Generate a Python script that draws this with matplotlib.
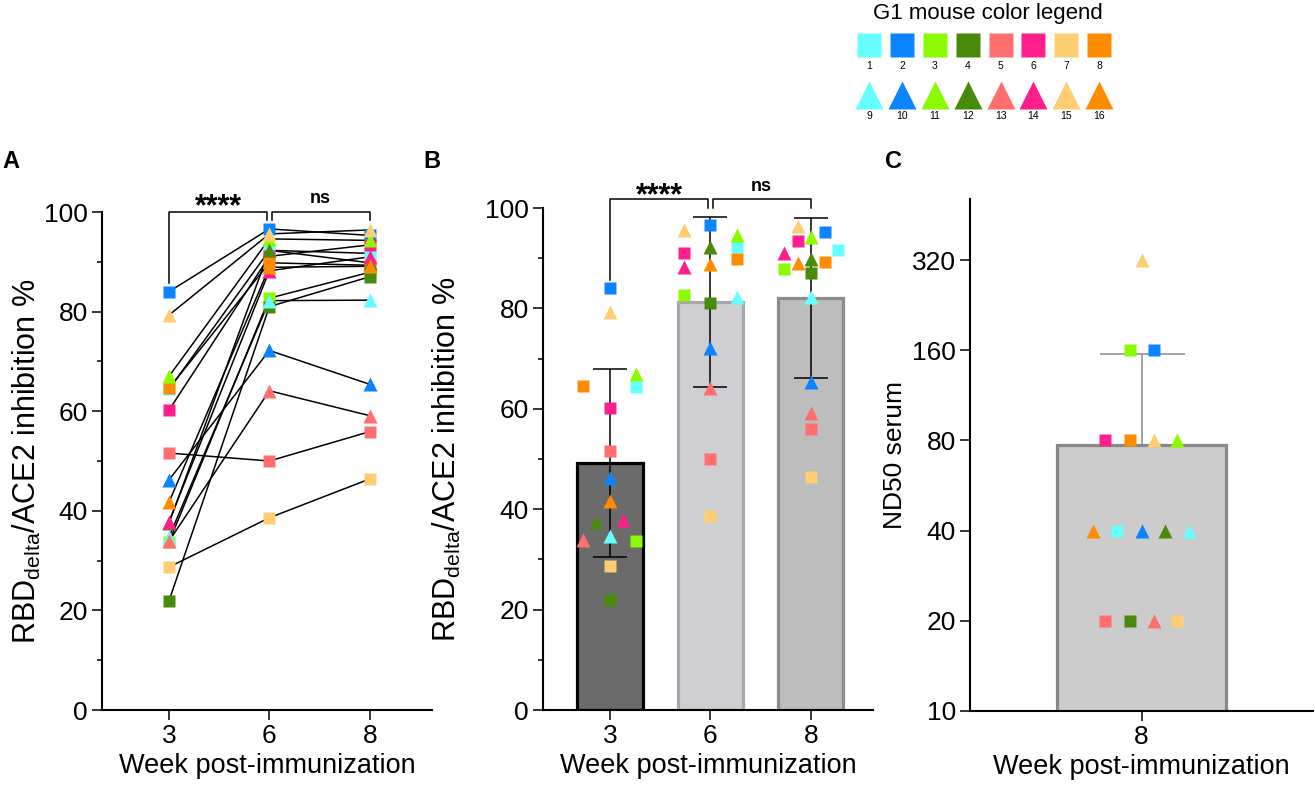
import matplotlib
matplotlib.use('Agg')
import matplotlib.pyplot as plt
from matplotlib.ticker import NullLocator, FixedLocator
import numpy as np

plt.rcParams['font.family'] = ['Liberation Sans', 'DejaVu Sans']
plt.rcParams['mathtext.fontset'] = 'custom'
plt.rcParams['mathtext.rm'] = 'Liberation Sans'
plt.rcParams['mathtext.it'] = 'Liberation Sans:italic'
plt.rcParams['mathtext.bf'] = 'Liberation Sans:bold'

# ---------------- data ----------------
weeks = ['3', '6', '8']
mouse_ids = list(range(1, 17))
mouse_palette = ['#66FFFF', '#0A84FF', '#8CFA00', '#4A8A0A',
                 '#FF6F6F', '#FF1F8C', '#FFCE73', '#FF8C00']
week3 = [64.4, 84.0, 33.7, 21.9, 51.6, 60.2, 28.7, 64.6,
         34.7, 46.2, 67.0, 37.5, 33.9, 37.8, 79.3, 41.7]
week6 = [92.3, 96.6, 82.7, 81.0, 50.0, 91.1, 38.6, 89.8,
         82.2, 72.2, 94.6, 92.3, 64.1, 88.2, 95.6, 88.9]
week8 = [91.7, 95.3, 87.9, 87.0, 55.9, 93.4, 46.4, 89.3,
         82.3, 65.4, 94.3, 89.8, 59.1, 91.0, 96.4, 89.1]

# panel C: ND50 per plotted point (mouse id shown by colour/marker)
nd50_week = '8'
nd50_mouse = [15, 3, 2, 6, 8, 15, 11, 16, 1, 10, 12, 9, 5, 4, 13, 7]
nd50_values = [320, 160, 160, 80, 80, 80, 80, 40, 40, 40, 40, 40, 20, 20, 20, 20]

sig_left = '****'
sig_right = 'ns'

# horizontal scatter offsets (styling)
jit3 = [0.26, 0, 0.26, 0, 0, 0, 0, -0.27, 0, 0, 0.26, -0.14, -0.27, 0.13, 0, 0]
jit6 = [0.27, 0, -0.26, 0, 0, -0.26, 0, 0.27, 0.27, 0, 0.27, 0, 0, -0.26, -0.26, 0]
jit8 = [0.27, 0.14, -0.27, 0, 0, -0.13, 0, 0.14, 0, 0, 0, 0, 0, -0.27, -0.13, -0.13]
jitC = [0, -0.071, 0.073, -0.217, -0.071, 0.073, 0.211, -0.288, -0.144, 0,
        0.14, 0.284, -0.217, -0.071, 0.073, 0.211]


def mcolor(m):
    return mouse_palette[(m - 1) % 8]


def mmarker(m):
    return 's' if m <= 8 else '^'


def msize(m):
    return 8.6 if m <= 8 else 10.0


W, H = 1315, 789
fig = plt.figure(figsize=(W / 100, H / 100), dpi=100)


def ax_px(l, t, r, b):
    return fig.add_axes([l / W, 1 - b / H, (r - l) / W, (b - t) / H])


TICK_FS = 19
LAB_FS = 19.5
YLAB_FS = 22


def style(ax):
    for s in ['top', 'right']:
        ax.spines[s].set_visible(False)
    for s in ['left', 'bottom']:
        ax.spines[s].set_linewidth(1.5)
    ax.tick_params(axis='both', which='major', length=7, width=1.1,
                   labelsize=TICK_FS, pad=3)
    ax.tick_params(axis='both', which='minor', length=3.6, width=1.1)


ylabel_txt = r'RBD$_{\mathrm{delta}}$/ACE2 inhibition %'
xlabel_txt = 'Week post-immunization'

# ---------------- panel A ----------------
axA = ax_px(102, 212, 432, 710)
style(axA)
xs = np.arange(3)
for i, m in enumerate(mouse_ids):
    axA.plot(xs, [week3[i], week6[i], week8[i]], color='black', lw=1.1, zorder=2)
for i, m in enumerate(mouse_ids):
    axA.plot(xs, [week3[i], week6[i], week8[i]], linestyle='none',
             marker=mmarker(m), ms=msize(m), mfc=mcolor(m), mec='none',
             zorder=3, clip_on=False)
axA.set_xlim(-0.667, 2.62)
axA.set_ylim(0, 100)
axA.set_xticks(xs, weeks)
axA.set_yticks(np.arange(0, 101, 20))
axA.yaxis.set_minor_locator(FixedLocator(np.arange(10, 100, 20)))
axA.set_ylabel(ylabel_txt, fontsize=YLAB_FS, labelpad=1)
axA.set_xlabel(xlabel_txt, fontsize=LAB_FS, labelpad=4)
axA.plot([0, 0, 0.977, 0.977], [85.8, 100, 100, 98.3], color='black', lw=1.1,
         clip_on=False, zorder=5)
axA.plot([1.03, 1.03, 2, 2], [98.4, 100, 100, 98.4], color='black', lw=1.1,
         clip_on=False, zorder=5)
axA.text(0.49, 99.4, sig_left, ha='center', va='baseline', fontsize=22,
         fontweight='bold')
axA.text(1.51, 101.9, sig_right, ha='center', va='baseline', fontsize=13,
         fontweight='bold')

# ---------------- panel B ----------------
axB = ax_px(543, 208, 873, 710)
style(axB)
groups = [week3, week6, week8]
jits = [jit3, jit6, jit8]
means = [np.mean(g) for g in groups]
sds = [np.std(g, ddof=1) for g in groups]
bar_fc = ['#6B6B6B', '#CFCFD3', '#BDBDBD']
bar_ec = ['#000000', '#A7A7AB', '#8C8C8C']
axB.bar(xs, means, width=0.65, color=bar_fc, edgecolor=bar_ec, linewidth=2.3,
        zorder=1)
axB.errorbar(xs, means, yerr=sds, fmt='none', ecolor='black', elinewidth=1.1,
             capsize=12, capthick=1.1, zorder=3)
for gi, (g, jt) in enumerate(zip(groups, jits)):
    for i, m in enumerate(mouse_ids):
        axB.plot(gi + jt[i], g[i], linestyle='none', marker=mmarker(m),
                 ms=msize(m), mfc=mcolor(m), mec='none', zorder=4)
axB.set_xlim(-0.667, 2.62)
axB.set_ylim(0, 100)
axB.set_xticks(xs, weeks)
axB.set_yticks(np.arange(0, 101, 20))
axB.yaxis.set_minor_locator(FixedLocator(np.arange(10, 100, 20)))
axB.set_ylabel(ylabel_txt, fontsize=YLAB_FS, labelpad=16)
axB.set_xlabel(xlabel_txt, fontsize=LAB_FS, labelpad=4)
axB.plot([0, 0, 0.977, 0.977], [85.7, 101.7, 101.7, 100], color='black',
         lw=1.1, clip_on=False, zorder=5)
axB.plot([1.027, 1.027, 2, 2], [100, 101.7, 101.7, 100], color='black',
         lw=1.1, clip_on=False, zorder=5)
axB.text(0.49, 100.8, sig_left, ha='center', va='baseline', fontsize=22,
         fontweight='bold')
axB.text(1.51, 103.4, sig_right, ha='center', va='baseline', fontsize=13,
         fontweight='bold')

# ---------------- panel C ----------------
axC = ax_px(970, 199, 1313, 711)
style(axC)
axC.set_yscale('log', base=2)
meanC = np.mean(nd50_values)
sdC = np.std(nd50_values, ddof=1)
axC.bar([0], [meanC - 1], bottom=1, width=1.0, color='#CCCCCC',
        edgecolor='#888888', linewidth=2.3, zorder=1)
axC.errorbar([0], [meanC], yerr=[[0], [sdC]], fmt='none', ecolor='#8A8A8A',
             elinewidth=1.1, capsize=30.6, capthick=1.1, zorder=0.5)
for i, m in enumerate(nd50_mouse):
    axC.plot(jitC[i], nd50_values[i], linestyle='none', marker=mmarker(m),
             ms=msize(m), mfc=mcolor(m), mec='none', zorder=4)
axC.set_xlim(-1.015, 1.015)
axC.set_ylim(10, 512)
cticks = [10, 20, 40, 80, 160, 320]
axC.set_yticks(cticks, [str(t) for t in cticks])
axC.yaxis.set_minor_locator(NullLocator())
axC.set_xticks([0], [nd50_week])
axC.set_ylabel('ND50 serum', fontsize=19, labelpad=4)
axC.set_xlabel(xlabel_txt, fontsize=LAB_FS, labelpad=4)

# ---------------- panel letters ----------------
for lbl, px in [('A', 11), ('B', 432), ('C', 894)]:
    fig.text(px / W, 1 - 161 / H, lbl, fontsize=17, fontweight='bold',
             ha='center', va='center')

# ---------------- mouse colour legend ----------------
axL = fig.add_axes([0, 0, 1, 1], zorder=10)
axL.set_xlim(0, W)
axL.set_ylim(H, 0)
axL.axis('off')
axL.patch.set_alpha(0)
axL.text(988, 13, 'G1 mouse color legend', ha='center', va='center',
         fontsize=16)
for i, m in enumerate(mouse_ids):
    col = i % 8
    row = i // 8
    x = 869.4 + 32.8 * col
    y = 45 if row == 0 else 95
    ms = 17.3 if row == 0 else 19.5
    axL.plot(x, y, linestyle='none', marker=mmarker(m), ms=ms,
             mfc=mcolor(m), mec='none')
    axL.text(x, y + 21, str(m), ha='center', va='center', fontsize=7.5)

fig.savefig('out.png', dpi=100)
